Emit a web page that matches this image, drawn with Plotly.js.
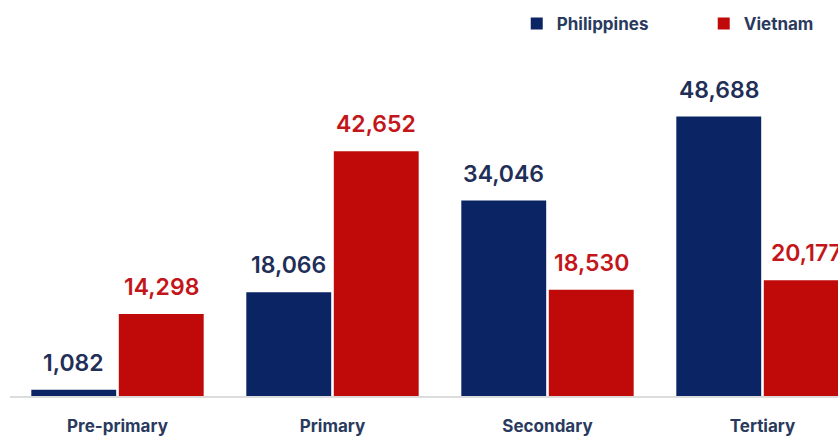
<!DOCTYPE html>
<html><head><meta charset="utf-8">
<script src="https://cdn.plot.ly/plotly-3.0.1.min.js"></script>
<style>html,body{margin:0;padding:0;background:#fff}#c{width:838px;height:440px}</style>
</head><body><div id="c"></div>
<script>
const categories = ["Pre-primary", "Primary", "Secondary", "Tertiary"];
const seriesNames = ["Philippines", "Vietnam"];
const philippines = [1082, 18066, 34046, 48688];
const vietnam = [14298, 42652, 18530, 20177];

const barColors = ["#0b2463", "#c00a0a"];
const labelColors = ["#1f2f57", "#c3161b"];
const allSeries = [philippines, vietnam];

const bargap = 0.186, bargroupgap = 0.03;
const slot = (1 - bargap) / 2;
const offsets = [-slot / 2, slot / 2];

const traces = allSeries.map((vals, i) => ({
  type: "bar",
  name: seriesNames[i],
  x: categories,
  y: vals,
  marker: {color: barColors[i]},
  hoverinfo: "none"
}));

const annotations = [];
allSeries.forEach((vals, i) => {
  vals.forEach((v, j) => {
    annotations.push({
      x: j + offsets[i], y: v, xref: "x", yref: "y",
      text: v.toLocaleString("en-US"),
      showarrow: false, yanchor: "bottom", yshift: 11,
      font: {family: "Inter, sans-serif", size: 23, weight: 600, color: labelColors[i]}
    });
  });
});

const plotW = 828, catW = 215;
const layout = {
  width: 838, height: 440,
  margin: {l: 10, r: 0, t: 60, b: 44, autoexpand: false},
  paper_bgcolor: "#fff", plot_bgcolor: "#fff",
  barmode: "group", bargap: bargap, bargroupgap: bargroupgap,
  showlegend: true,
  legend: {orientation: "h", x: 0.612, xanchor: "left", y: 1.107, yanchor: "middle",
    font: {family: "Inter, sans-serif", size: 17, weight: 700, color: "#2a3a5e"},
    itemwidth: 30, entrywidth: 142, traceorder: "normal"},
  xaxis: {type: "category", range: [-0.5, -0.5 + plotW / catW],
    showgrid: false, zeroline: false, showline: true, linecolor: "#dcdcdc", linewidth: 2,
    ticks: "", ticklabelstandoff: 14,
    tickfont: {family: "Inter, sans-serif", size: 17, weight: 700, color: "#2a3a5e"},
    fixedrange: true},
  yaxis: {range: [0, 58540], visible: false, fixedrange: true},
  annotations: annotations
};
Plotly.newPlot("c", traces, layout, {displayModeBar: false, staticPlot: true});
</script></body></html>
